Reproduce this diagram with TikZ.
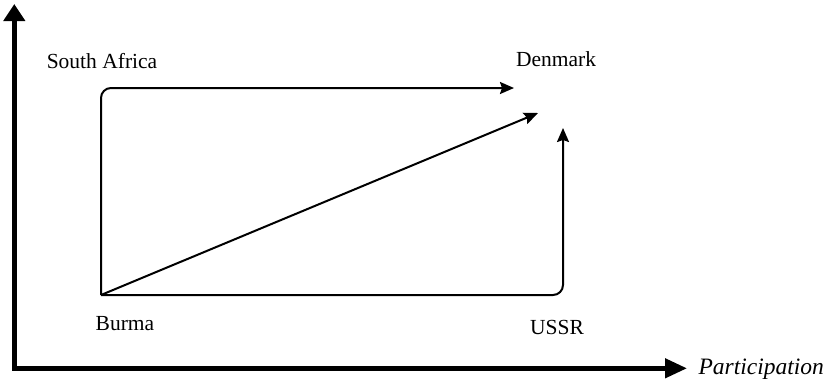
\documentclass[tikz,border=0pt]{standalone}
\usepackage{fontspec}
\setmainfont{Liberation Serif}
\usetikzlibrary{arrows.meta}
\tikzset{
  axis/.style={line width=4.5pt},
  flow/.style={line width=2pt,-{Stealth[length=14pt,width=12pt,inset=2pt]}},
  place/.style={font=\fontsize{21.5}{25}\selectfont}
}
\begin{document}
\begin{tikzpicture}[x=1pt,y=-1pt]
\useasboundingbox (0,0) rectangle (827,383);
\coordinate (O) at (14.3,368.3);
\coordinate (ytop) at (14.3,4);
\coordinate (xend) at (687,368.3);
\coordinate (burma) at (101,295);
\coordinate (safrica) at (101,88);
\coordinate (denmark) at (514,88);
\coordinate (diag) at (538,113);
\coordinate (ussrtop) at (563,128);
\node[place] (tSA) at (102,61) {South Africa};
\node[place] (tDK) at (556,59) {Denmark};
\node[place] (tBU) at (125,324) {Burma};
\node[place] (tUS) at (557,327) {USSR};
\node[place,font=\fontsize{23.5}{27}\selectfont\itshape,anchor=base west] (tPA) at (695,374) {Participation};
\draw[axis,-{Triangle[length=17pt,width=21pt]}] (O) -- (ytop);
\draw[axis,-{Triangle[length=22pt,width=19pt]}] ([xshift=-2.25pt]O) -- (xend);
\draw[flow,rounded corners=10pt] (burma) |- (denmark);
\draw[flow] (burma) -- (diag);
\draw[flow,rounded corners=10pt] (burma) -| (ussrtop);
\end{tikzpicture}
\end{document}
